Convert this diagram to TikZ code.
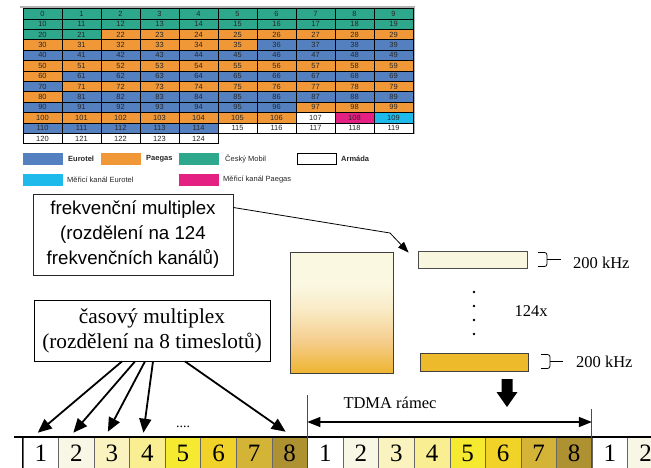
\documentclass[tikz,border=0pt]{standalone}
\usepackage{fontspec}
\setmainfont{Liberation Serif}
\newfontfamily\arialf{Liberation Sans}
\usetikzlibrary{arrows.meta}
\definecolor{cG}{RGB}{46,168,140}
\definecolor{cO}{RGB}{240,152,56}
\definecolor{cB}{RGB}{84,128,192}
\definecolor{cC}{RGB}{30,186,236}
\definecolor{cM}{RGB}{228,32,130}
\definecolor{cW}{RGB}{255,255,255}
\definecolor{sA}{RGB}{255,255,255}
\definecolor{sB}{RGB}{248,246,228}
\definecolor{sC}{RGB}{250,243,192}
\definecolor{sD}{RGB}{249,238,145}
\definecolor{sE}{RGB}{245,234,48}
\definecolor{sF}{RGB}{240,210,40}
\definecolor{sG}{RGB}{212,180,55}
\definecolor{sH}{RGB}{174,145,48}
\definecolor{rOne}{RGB}{248,246,222}
\definecolor{rTwo}{RGB}{236,186,42}
\definecolor{gBot}{RGB}{238,180,48}
\definecolor{gMid}{RGB}{245,205,140}
\definecolor{gUp}{RGB}{249,236,200}
\definecolor{gTop}{RGB}{251,248,226}
\pgfdeclareverticalshading{gradrect}{100bp}{color(0bp)=(gBot); color(25bp)=(gBot); color(38bp)=(gMid); color(52bp)=(gUp); color(62bp)=(gTop); color(75bp)=(gTop); color(100bp)=(gTop)}
\newcommand\mytabrow[2]{%
  \foreach \c [count=\i from 0] in {#2}{%
    \pgfmathtruncatemacro\n{10*#1+\i}%
    \node[cell,fill=c\c] (t\n) at ({42.5+39*\i},{13.7+10.4*#1}) {\n};%
  }}
\begin{document}
\begin{tikzpicture}[x=1pt,y=-1pt,
  cell/.style={draw=black,line width=0.8pt,minimum width=39pt,minimum height=10.4pt,inner sep=0pt,
    font=\arialf\fontsize{7.5}{8}\selectfont,text=black!85},
  legbox/.style={draw=none,minimum width=40pt,minimum height=12pt,inner sep=0pt,anchor=west},
  legtext/.style={anchor=west,inner sep=0pt,font=\arialf\fontsize{7.5}{9}\selectfont,text=black!85},
  callout/.style={draw=black!85,line width=0.8pt,inner sep=0pt,align=center},
  slot/.style={draw=black!60,line width=0.6pt,minimum width=35.55pt,minimum height=32pt,inner sep=0pt,
    anchor=west,font=\fontsize{25}{25}\selectfont},
  serif/.style={inner sep=0pt,font=\fontsize{16.5}{18}\selectfont},
  thick arrow/.style={line width=1.8pt,-{Triangle[length=14pt,width=12pt]}},
  thin arrow/.style={line width=0.8pt,-{Triangle[length=11pt,width=8pt]}},
  frameline/.style={draw=black!70,line width=1pt}
]
\useasboundingbox (0,0) rectangle (651,467);
% --- table ---
\draw[black!30,line width=1.2pt] (20,7) -- (414,7) -- (414,134);
\mytabrow{0}{G,G,G,G,G,G,G,G,G,G}
\mytabrow{1}{G,G,G,G,G,G,G,G,G,G}
\mytabrow{2}{G,G,O,O,O,O,O,O,O,O}
\mytabrow{3}{O,O,O,O,O,O,B,B,B,B}
\mytabrow{4}{B,B,B,B,B,B,B,B,B,B}
\mytabrow{5}{O,O,O,O,O,O,O,O,O,O}
\mytabrow{6}{O,B,B,B,B,B,B,B,B,B}
\mytabrow{7}{B,O,O,O,O,O,O,O,O,O}
\mytabrow{8}{O,B,B,B,B,B,B,B,B,B}
\mytabrow{9}{B,B,B,B,B,B,B,O,O,O}
\mytabrow{10}{O,O,O,O,O,O,O,W,M,C}
\mytabrow{11}{B,B,B,B,B,W,W,W,W,W}
\mytabrow{12}{W,W,W,W,W}
% --- legend ---
\node[legbox,fill=cB] (lEu) at (23,159) {};
\node[legtext,font=\arialf\bfseries\fontsize{7.5}{9}\selectfont] (lEuT) at (68,159) {Eurotel};
\node[legbox,fill=cO] (lPa) at (101,159) {};
\node[legtext,font=\arialf\bfseries\fontsize{7.5}{9}\selectfont] (lPaT) at (146,159) {Paegas};
\node[legbox,fill=cG] (lCm) at (179,159) {};
\node[legtext] (lCmT) at (225,159) {Český Mobil};
\node[legbox,draw=black,line width=0.8pt,minimum width=39pt,minimum height=11pt] (lAr) at (297,159) {};
\node[legtext,font=\arialf\bfseries\fontsize{7.5}{9}\selectfont] (lArT) at (341,159) {Armáda};
\node[legbox,fill=cC] (lMe) at (23,180) {};
\node[legtext] (lMeT) at (67,180) {Měřicí kanál Eurotel};
\node[legbox,fill=cM] (lMp) at (179,180) {};
\node[legtext] (lMpT) at (223,180) {Měřicí kanál Paegas};
% --- callouts ---
\node[callout,minimum width=200pt,minimum height=81pt,font=\arialf\fontsize{18.7}{25}\selectfont] (frek) at (133,234.5)
  {frekvenční multiplex\\(rozdělení na 124\\frekvenčních kanálů)};
\node[callout,draw=black,minimum width=236pt,minimum height=61pt,font=\fontsize{21.3}{25}\selectfont] (cas) at (152,330.5)
  {časový multiplex\\(rozdělení na 8 timeslotů)};
% --- frequency blocks ---
\node[draw=black!75,line width=0.8pt,shading=gradrect,minimum width=103pt,minimum height=121pt,inner sep=0pt] (big) at (341.5,312.5) {};
\node[draw=black!70,line width=0.8pt,fill=rOne,minimum width=109pt,minimum height=17pt,inner sep=0pt] (r1) at (472.5,259.5) {};
\node[draw=black!75,line width=0.8pt,fill=rTwo,minimum width=108pt,minimum height=18pt,inner sep=0pt] (r2) at (474,362) {};
\coordinate (bend) at (390,233);
\draw[thin arrow] ([yshift=27pt]frek.east) -- (bend) -- ([xshift=-9pt,yshift=-2pt]r1.north west);
% braces
\draw[line width=0.8pt,rounded corners=2.5pt] (538,252.5) -- (547,252.5) -- (547,266.5) -- (538,266.5);
\draw[line width=0.8pt] (547,259.5) -- (561,259.5);
\draw[line width=0.8pt,rounded corners=2.5pt] (541,354.5) -- (550,354.5) -- (550,368.5) -- (541,368.5);
\draw[line width=0.8pt] (550,361.5) -- (563,361.5);
\node[serif,anchor=west] (k1) at (573,263) {200 kHz};
\node[serif,anchor=west] (k2) at (576,362) {200 kHz};
\foreach \yy in {292,306,320,334} \fill (474,\yy) circle (1.3pt);
\node[serif] (n124) at (531,311) {124x};
% big down arrow
\fill[black] (501.5,379) -- (512.5,379) -- (512.5,392) -- (517.5,392) -- (507,407) -- (496.5,392) -- (501.5,392) -- cycle;
% --- time slots ---
\foreach \f/\fx in {1/22.7,2/307.3}{
  \foreach \k/\cc in {1/sA,2/sB,3/sC,4/sD,5/sE,6/sF,7/sG,8/sH}{
    \node[slot,fill=\cc] (f\f s\k) at ({\fx+35.55*(\k-1)},453) {\k};
  }
}
\node[slot,fill=sA] (f3s1) at (591.9,453) {1};
\node[slot,fill=sB] (f3s2) at (627.45,453) {2};
\draw[line width=1.6pt] (14,437) -- (651,437);
\draw[black,line width=1pt] (22.7,437) -- (22.7,470);
\draw[frameline] (f2s1.south west) -- ++(0,-74);
\draw[frameline] (f3s1.south west) -- ++(0,-60);
\coordinate (tl) at (307.3,422);
\coordinate (tr) at (591.9,422);
\draw[line width=1.3pt,{Triangle[length=13pt,width=10pt]}-{Triangle[length=13pt,width=10pt]}] (tl) -- (tr);
\node[serif] (tdma) at (390,403) {TDMA rámec};
\node[inner sep=0pt,font=\fontsize{14}{14}\selectfont] (dots) at (183,427) {....};
% arrows from časový multiplex
\draw[thick arrow] ([xshift=-30pt]cas.south) -- ([xshift=-3pt,yshift=4pt]f1s1.north);
\draw[thick arrow] ([xshift=-17pt]cas.south) -- ([xshift=-3pt,yshift=4pt]f1s2.north);
\draw[thick arrow] ([xshift=-7pt]cas.south) -- ([xshift=-4pt,yshift=5pt]f1s3.north);
\draw[thick arrow] ([xshift=1pt]cas.south) -- ([xshift=-4pt,yshift=4pt]f1s4.north);
\draw[thick arrow] ([xshift=33pt]cas.south) -- ([xshift=-4pt,yshift=5pt]f1s8.north);
\end{tikzpicture}
\end{document}
